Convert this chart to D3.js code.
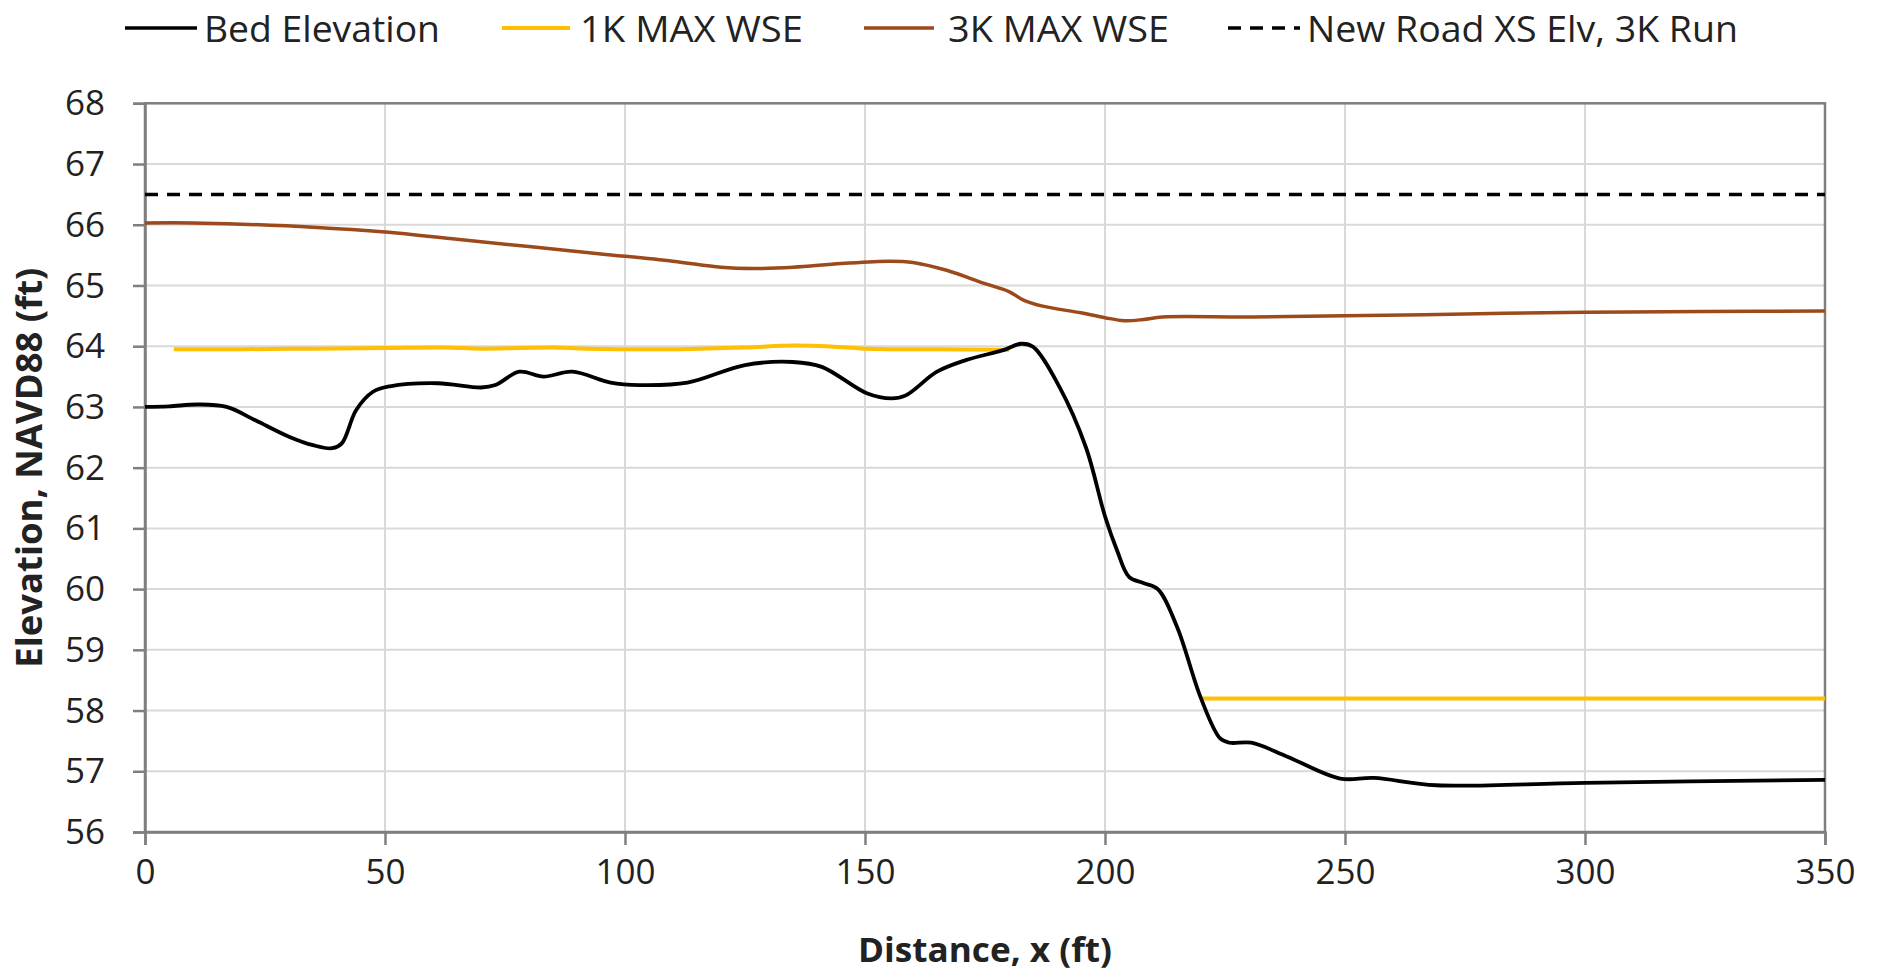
<!DOCTYPE html>
<html>
<head>
<meta charset="utf-8">
<script src="https://cdn.jsdelivr.net/npm/d3@7"></script>
<style>
  body { margin: 0; background: #ffffff; }
  svg { display: block; }
</style>
</head>
<body>
<svg id="chart" width="1881" height="974"></svg>
<script>
// ---------------- DATA ----------------
const seriesNames = ["Bed Elevation", "1K MAX WSE", "3K MAX WSE", "New Road XS Elv, 3K Run"];

const bedX = [0, 5, 11, 17, 23, 30, 35, 39, 41, 44, 47.5, 51, 61, 70, 73, 78, 83, 89, 97, 103, 113,
              125, 135, 141, 150.5, 155.5, 158.5, 165, 171, 179, 182.5, 185, 190.5, 196, 200, 202.5,
              205, 208, 211, 215, 220, 224, 226, 230.5, 238, 249, 256, 269, 300, 350];
const bedY = [63.00, 63.01, 63.04, 63.00, 62.78, 62.51, 62.37, 62.32, 62.40, 62.95, 63.25, 63.34, 63.39, 63.32, 63.36, 63.58, 63.50, 63.58, 63.40, 63.36, 63.40,
              63.69, 63.74, 63.66, 63.22, 63.14, 63.19, 63.58, 63.77, 63.94, 64.04, 63.99, 63.33, 62.34, 61.20, 60.64,
              60.20, 60.10, 60.00, 59.38, 58.20, 57.54, 57.47, 57.47, 57.24, 56.88, 56.89, 56.77, 56.81, 56.86];

const wse1kX_a = [6, 20, 35, 50, 62, 70, 78, 85, 92, 110, 125, 135, 142, 150, 165, 180];
const wse1kY_a = [63.95, 63.95, 63.96, 63.97, 63.98, 63.96, 63.97, 63.98, 63.96, 63.95, 63.98, 64.01, 64.00, 63.96, 63.95, 63.94];
const wse1kX_b = [220, 350];
const wse1kY_b = [58.20, 58.20];

const wse3kX = [0, 10, 20, 35, 50, 65, 80, 95, 110, 120, 127, 135, 145, 155, 160, 167, 175, 180, 183, 187,
                195, 200, 204, 208, 212, 230, 250, 275, 300, 325, 350];
const wse3kY = [66.03, 66.03, 66.01, 65.96, 65.88, 65.76, 65.64, 65.52, 65.40, 65.30, 65.28, 65.30, 65.36, 65.40, 65.38, 65.25, 65.03, 64.90, 64.76, 64.66,
                64.55, 64.47, 64.42, 64.44, 64.48, 64.48, 64.50, 64.53, 64.56, 64.57, 64.58];

const roadX = [0, 350];
const roadY = [66.5, 66.5];

const xTickValues = [0, 50, 100, 150, 200, 250, 300, 350];
const yTickValues = [56, 57, 58, 59, 60, 61, 62, 63, 64, 65, 66, 67, 68];

const xTitle = "Distance, x (ft)";
const yTitle = "Elevation, NAVD88 (ft)";

// ---------------- LAYOUT ----------------
const W = 1881, H = 974;
const plot = { left: 145, right: 1825, top: 103.3, bottom: 832 };
const FONT = "'Open Sans', 'Noto Sans', 'DejaVu Sans', sans-serif";
const colors = { bed: "#000000", k1: "#FFC000", k3: "#9c4a1a", road: "#000000" };

const svg = d3.select("#chart");
svg.append("rect").attr("width", W).attr("height", H).attr("fill", "#ffffff");

const x = d3.scaleLinear().domain([0, 350]).range([plot.left, plot.right]);
const y = d3.scaleLinear().domain([56, 68]).range([plot.bottom, plot.top]);

// Gridlines
const grid = svg.append("g");
grid.selectAll("line.h").data(yTickValues).join("line")
  .attr("x1", plot.left).attr("x2", plot.right)
  .attr("y1", d => y(d)).attr("y2", d => y(d))
  .attr("stroke", "#d9d9d9").attr("stroke-width", 2);
grid.selectAll("line.v").data(xTickValues).join("line")
  .attr("y1", plot.top).attr("y2", plot.bottom)
  .attr("x1", d => x(d)).attr("x2", d => x(d))
  .attr("stroke", "#d9d9d9").attr("stroke-width", 2);

// Plot border
svg.append("rect")
  .attr("x", plot.left).attr("y", plot.top)
  .attr("width", plot.right - plot.left).attr("height", plot.bottom - plot.top)
  .attr("fill", "none").attr("stroke", "#7f7f7f").attr("stroke-width", 2.5);

// Axes
const yAxis = svg.append("g")
  .attr("transform", `translate(${plot.left},0)`)
  .call(d3.axisLeft(y).tickValues(yTickValues).tickSize(12).tickPadding(28).tickFormat(d3.format("d")));
const xAxis = svg.append("g")
  .attr("transform", `translate(0,${plot.bottom})`)
  .call(d3.axisBottom(x).tickValues(xTickValues).tickSize(13).tickPadding(14).tickFormat(d3.format("d")));

[yAxis, xAxis].forEach(a => {
  a.select(".domain").attr("stroke", "#7f7f7f").attr("stroke-width", 2.5);
  a.selectAll(".tick line").attr("stroke", "#7f7f7f").attr("stroke-width", 2.5);
  a.selectAll(".tick text").attr("font-family", FONT).attr("font-size", 35).attr("fill", "#222");
});
yAxis.selectAll(".tick text").attr("dy", "0.33em");
xAxis.selectAll(".tick text").attr("dy", "0.72em");

// Lines
const lineGen = d3.line().x(d => x(d[0])).y(d => y(d[1])).curve(d3.curveCatmullRom.alpha(0.5));
const zip = (a, b) => a.map((v, i) => [v, b[i]]);

const lines = svg.append("g");
lines.append("path").datum(zip(roadX, roadY))
  .attr("d", d3.line().x(d => x(d[0])).y(d => y(d[1])))
  .attr("fill", "none").attr("stroke", colors.road).attr("stroke-width", 3.5)
  .attr("stroke-dasharray", "13,9");
lines.append("path").datum(zip(wse3kX, wse3kY))
  .attr("d", lineGen).attr("fill", "none").attr("stroke", colors.k3).attr("stroke-width", 3.5);
lines.append("path").datum(zip(wse1kX_a, wse1kY_a))
  .attr("d", lineGen).attr("fill", "none").attr("stroke", colors.k1).attr("stroke-width", 4);
lines.append("path").datum(zip(wse1kX_b, wse1kY_b))
  .attr("d", lineGen).attr("fill", "none").attr("stroke", colors.k1).attr("stroke-width", 4);
lines.append("path").datum(zip(bedX, bedY))
  .attr("d", lineGen).attr("fill", "none").attr("stroke", colors.bed).attr("stroke-width", 3.8)
  .attr("stroke-linejoin", "round");

// Axis titles
svg.append("text")
  .attr("x", (plot.left + plot.right) / 2).attr("y", 962)
  .attr("text-anchor", "middle")
  .attr("font-family", FONT).attr("font-weight", "bold").attr("font-size", 34).attr("fill", "#222")
  .attr("textLength", 254).attr("lengthAdjust", "spacingAndGlyphs")
  .text(xTitle);
svg.append("text")
  .attr("transform", `translate(42,${(plot.top + plot.bottom) / 2}) rotate(-90)`)
  .attr("text-anchor", "middle")
  .attr("font-family", FONT).attr("font-weight", "bold").attr("font-size", 35).attr("fill", "#222")
  .attr("textLength", 400).attr("lengthAdjust", "spacingAndGlyphs")
  .text(yTitle);

// Legend
const legendItems = [
  { name: seriesNames[0], color: colors.bed, dash: null, x1: 125, x2: 197, tx: 204, tl: 236, w: 3.5 },
  { name: seriesNames[1], color: colors.k1, dash: null, x1: 502, x2: 570, tx: 580, tl: 223, w: 4 },
  { name: seriesNames[2], color: colors.k3, dash: null, x1: 864, x2: 934, tx: 948, tl: 221, w: 3.5 },
  { name: seriesNames[3], color: colors.road, dash: "13,9", x1: 1228, x2: 1300, tx: 1307, tl: 431, w: 3.5 }
];
const lg = svg.append("g");
legendItems.forEach(it => {
  lg.append("line").attr("x1", it.x1).attr("x2", it.x2).attr("y1", 28).attr("y2", 28)
    .attr("stroke", it.color).attr("stroke-width", it.w)
    .attr("stroke-dasharray", it.dash);
  lg.append("text").attr("x", it.tx).attr("y", 42)
    .attr("font-family", FONT).attr("font-size", 37).attr("fill", "#222")
    .attr("textLength", it.tl).attr("lengthAdjust", "spacingAndGlyphs")
    .text(it.name);
});
</script>
</body>
</html>
